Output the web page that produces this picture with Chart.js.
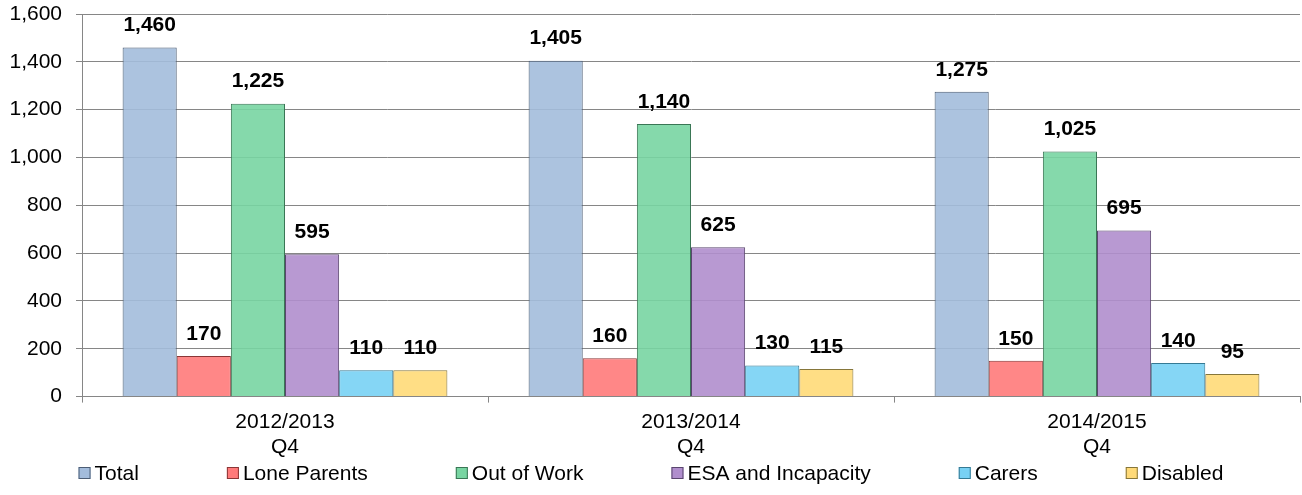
<!DOCTYPE html>
<html lang="en">
<head>
    <meta charset="UTF-8">
    <title>Claimants by group</title>
    <script src="https://cdn.jsdelivr.net/npm/chart.js"></script>
    <style>
        body {
            margin: 0;
            padding: 0;
            background: #fff;
        }
        .wrap {
            width: 1302px;
            height: 495px;
            position: relative;
        }
    </style>
</head>
<body>

<div class="wrap">
    <canvas id="claimChart"></canvas>
</div>

<script>
    // Quarters shown on the x axis
    const categories = [["2012/2013", "Q4"], ["2013/2014", "Q4"], ["2014/2015", "Q4"]];

    // Series values
    const total = [1460, 1405, 1275];
    const loneParents = [170, 160, 150];
    const outOfWork = [1225, 1140, 1025];
    const esaIncapacity = [595, 625, 695];
    const carers = [110, 130, 140];
    const disabled = [110, 115, 95];

    const yTicks = [0, 200, 400, 600, 800, 1000, 1200, 1400, 1600];

    const FONT = '"Liberation Sans", Arial, sans-serif';
    const fmt = v => v.toLocaleString('en-GB');

    // Draws the bold value above each bar
    const valueLabels = {
        id: 'valueLabels',
        afterDatasetsDraw(chart) {
            const c = chart.ctx;
            c.save();
            c.font = 'bold 21px ' + FONT;
            c.fillStyle = '#000';
            c.textAlign = 'center';
            c.textBaseline = 'middle';
            chart.data.datasets.forEach((ds, i) => {
                chart.getDatasetMeta(i).data.forEach((bar, j) => {
                    c.fillText(fmt(ds.data[j]), bar.x, bar.y - 22);
                });
            });
            c.restore();
        }
    };

    // Excel-style legend: small square, tight gap to text, wide gap between items
    const bottomLegend = {
        id: 'bottomLegend',
        afterDraw(chart) {
            const c = chart.ctx;
            const box = 12, textGap = 4, itemGap = 88;
            c.save();
            c.font = '21px ' + FONT;
            c.textBaseline = 'middle';
            const items = chart.data.datasets.map(ds => ({ ds, w: c.measureText(ds.label).width }));
            const full = items.reduce((s, it) => s + box + textGap + it.w, 0) + itemGap * (items.length - 1);
            let x = (chart.width - full) / 2;
            const y = chart.scales.x.bottom + 6;
            items.forEach(it => {
                c.fillStyle = it.ds.legendColor;
                c.fillRect(x, y - box / 2, box, box);
                c.strokeStyle = it.ds.borderColor;
                c.lineWidth = 1;
                c.strokeRect(x + 0.5, y - box / 2 + 0.5, box - 1, box - 1);
                c.fillStyle = '#000';
                c.fillText(it.ds.label, x + box + textGap, y + 1);
                x += box + textGap + it.w + itemGap;
            });
            c.restore();
        }
    };

    const series = [
        { label: 'Total', data: total, fill: [163, 188, 220], border: '#4c5d75' },
        { label: 'Lone Parents', data: loneParents, fill: [255, 122, 122], border: '#8a3636' },
        { label: 'Out of Work', data: outOfWork, fill: [120, 213, 162], border: '#3a7655' },
        { label: 'ESA and Incapacity', data: esaIncapacity, fill: [176, 142, 205], border: '#5a466e' },
        { label: 'Carers', data: carers, fill: [120, 209, 244], border: '#357a94' },
        { label: 'Disabled', data: disabled, fill: [255, 218, 120], border: '#86763a' }
    ];

    const ctx = document.getElementById('claimChart').getContext('2d');
    new Chart(ctx, {
        type: 'bar',
        data: {
            labels: categories,
            datasets: series.map(s => ({
                label: s.label,
                data: s.data,
                backgroundColor: 'rgba(' + s.fill.join(',') + ',0.9)',
                legendColor: 'rgb(' + s.fill.join(',') + ')',
                borderColor: s.border,
                borderWidth: 1,
                categoryPercentage: 0.8,
                barPercentage: 1.0
            }))
        },
        options: {
            responsive: true,
            maintainAspectRatio: false,
            animation: false,
            layout: { padding: { top: 4, right: 2, left: 10, bottom: 28 } },
            plugins: {
                tooltip: { enabled: false },
                legend: { display: false }
            },
            scales: {
                x: {
                    grid: {
                        offset: true,
                        drawOnChartArea: false,
                        drawTicks: true,
                        tickLength: 6,
                        color: '#868686'
                    },
                    border: { color: '#868686' },
                    ticks: {
                        color: '#000',
                        font: { family: FONT, size: 21, lineHeight: 1.2 },
                        padding: 7
                    }
                },
                y: {
                    min: 0,
                    max: 1600,
                    afterBuildTicks: axis => { axis.ticks = yTicks.map(v => ({ value: v })); },
                    afterFit: axis => {
                        axis.width = 72;
                        axis.paddingTop = 14;
                    },
                    grid: {
                        color: '#868686',
                        tickLength: 6
                    },
                    border: { color: '#868686' },
                    ticks: {
                        color: '#000',
                        font: { family: FONT, size: 21 },
                        padding: 14,
                        callback: v => fmt(v)
                    }
                }
            }
        },
        plugins: [valueLabels, bottomLegend]
    });
</script>

</body>
</html>
